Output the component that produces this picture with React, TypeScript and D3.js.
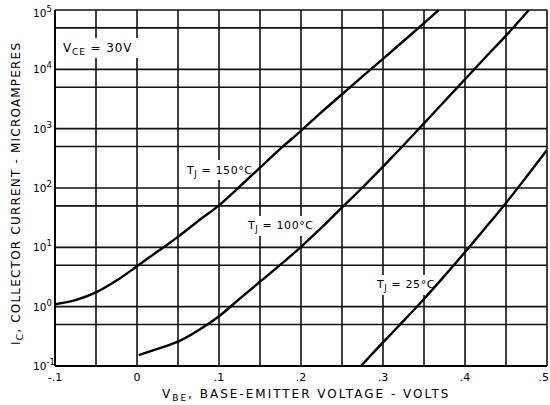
import React from "react";
import * as d3 from "d3";

const xTicks = [-0.1, 0, 0.1, 0.2, 0.3, 0.4, 0.5];
const xTickLabels = ["-.1", "0", ".1", ".2", ".3", ".4", ".5"];
const xGrid = [-0.1, -0.05, 0, 0.05, 0.1, 0.15, 0.2, 0.25, 0.3, 0.35, 0.4, 0.45, 0.5];
const yGrid = [0.1, 0.5, 1, 5, 10, 50, 100, 500, 1000, 5000, 10000, 50000, 100000];
const yDecades = [-1, 0, 1, 2, 3, 4, 5];

const v150 = [-0.1, -0.075, -0.05, -0.025, 0, 0.025, 0.05, 0.075, 0.1, 0.125, 0.15, 0.175, 0.2, 0.225, 0.25, 0.275, 0.3, 0.325, 0.35, 0.368];
const i150 = [1.1, 1.29, 1.74, 2.75, 4.8, 8.5, 15, 28, 51, 105, 220, 460, 920, 1900, 3800, 7600, 15000, 30000, 60000, 100000];

const v100 = [0.002, 0.025, 0.05, 0.075, 0.1, 0.125, 0.15, 0.175, 0.2, 0.225, 0.25, 0.275, 0.3, 0.325, 0.35, 0.375, 0.4, 0.425, 0.45, 0.478];
const i100 = [0.153, 0.195, 0.257, 0.4, 0.69, 1.35, 2.63, 5.1, 10.2, 21.4, 47, 102, 229, 525, 1230, 2900, 6800, 16000, 37000, 100000];

const v25 = [0.273, 0.3, 0.325, 0.35, 0.375, 0.4, 0.425, 0.45, 0.475, 0.5];
const i25 = [0.1, 0.25, 0.575, 1.35, 3.3, 8.3, 21.4, 56, 155, 437];

const FONT = "'DejaVu Sans', sans-serif";

export default function App() {
  const W = 550, H = 405;
  const L = 55, R = 547, T = 10, B = 366;
  const x = d3.scaleLinear().domain([-0.1, 0.5]).range([L, R]);
  const y = d3.scaleLog().domain([0.1, 1e5]).range([B, T]);
  const line = d3
    .line<[number, number]>()
    .x((d) => x(d[0]))
    .y((d) => y(d[1]))
    .curve(d3.curveCatmullRom.alpha(0.5));
  const zip = (a: number[], b: number[]) => a.map((v, i) => [v, b[i]] as [number, number]);
  const curves = [zip(v150, i150), zip(v100, i100), zip(v25, i25)];

  const labelBox = (x0: number, y0: number, w: number, h: number) => (
    <rect x={x0} y={y0} width={w} height={h} fill="#fff" />
  );

  return (
    <svg width={W} height={H} style={{ position: "absolute", left: 0, top: 0, background: "#fff" }} fontFamily={FONT}>
      <rect x={0} y={0} width={W} height={H} fill="#fff" />
      <defs>
        <clipPath id="plot">
          <rect x={L} y={T} width={R - L} height={B - T} />
        </clipPath>
      </defs>
      {xGrid.map((v, i) => (
        <line key={"vx" + i} x1={x(v)} x2={x(v)} y1={T} y2={B} stroke="#111" strokeWidth={1.6} />
      ))}
      {yGrid.map((v, i) => (
        <line key={"hy" + i} x1={L} x2={R} y1={y(v)} y2={y(v)} stroke="#111" strokeWidth={1.6} />
      ))}
      <line x1={L} x2={L} y1={T} y2={B} stroke="#000" strokeWidth={2} />
      <line x1={L} x2={R} y1={B} y2={B} stroke="#000" strokeWidth={2} />

      {/* label backgrounds */}
      {labelBox(60, 38, 78, 20)}
      {labelBox(184, 160, 72, 20)}
      {labelBox(245, 216, 70, 20)}
      {labelBox(374, 275, 60, 20)}

      <g clipPath="url(#plot)">
        {curves.map((c, i) => (
          <path key={"c" + i} d={line(c) || ""} fill="none" stroke="#000" strokeWidth={2.4} />
        ))}
      </g>

      {/* annotations */}
      <text x={63} y={52} fontSize={12} fill="#000" letterSpacing={0.9}>
        V<tspan fontSize={9} dy={3}>CE</tspan>
        <tspan dy={-3}> = 30V</tspan>
      </text>
      <text x={187} y={174} fontSize={11} fill="#000" letterSpacing={0.6}>
        T<tspan fontSize={8.5} dy={3}>J</tspan>
        <tspan dy={-3}> = 150°C</tspan>
      </text>
      <text x={248} y={229} fontSize={11} fill="#000" letterSpacing={0.6}>
        T<tspan fontSize={8.5} dy={3}>J</tspan>
        <tspan dy={-3}> = 100°C</tspan>
      </text>
      <text x={377} y={288} fontSize={11} fill="#000" letterSpacing={0.6}>
        T<tspan fontSize={8.5} dy={3}>J</tspan>
        <tspan dy={-3}> = 25°C</tspan>
      </text>

      {/* y tick labels */}
      {yDecades.map((d) => (
        <text key={"yt" + d} x={33} y={Math.max(y(Math.pow(10, d)) + 4, 17)} fontSize={10.5} fill="#000">
          10<tspan fontSize={8.5} dy={-5}>{d}</tspan>
        </text>
      ))}

      {/* x tick labels */}
      {xTicks.map((v, i) => {
        const last = i === xTicks.length - 1;
        return (
          <text key={"xt" + i} x={last ? x(v) + 2 : x(v)} y={381} fontSize={11} textAnchor={last ? "end" : "middle"} fill="#000">
            {xTickLabels[i]}
          </text>
        );
      })}

      {/* axis titles */}
      <text x={162} y={398} fontSize={12} fill="#000" letterSpacing={2}>
        V<tspan fontSize={9} dy={3}>BE</tspan>
        <tspan dy={-3}>, BASE-EMITTER VOLTAGE - VOLTS</tspan>
      </text>
      <text transform="translate(20,345) rotate(-90)" x={0} y={0} fontSize={12} fill="#000" letterSpacing={1.2}>
        I<tspan fontSize={9} dy={3}>C</tspan>
        <tspan dy={-3}>, COLLECTOR CURRENT - MICROAMPERES</tspan>
      </text>
    </svg>
  );
}
